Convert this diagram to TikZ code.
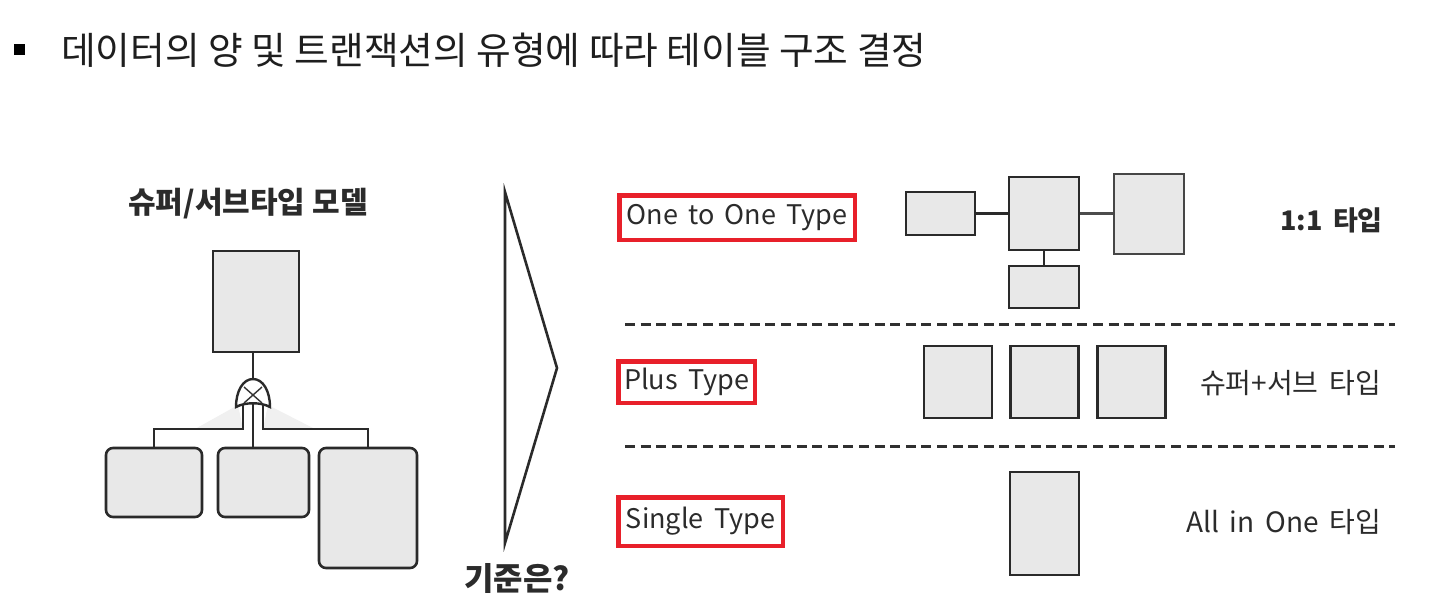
\documentclass[tikz,border=0pt]{standalone}
\usepackage{fontspec}
\setmainfont{Noto Sans CJK KR}
\newcommand{\widespace}{\spaceskip=0.38em\relax}
\definecolor{boxline}{HTML}{2A2A2A}
\definecolor{boxfill}{HTML}{E8E8E8}
\definecolor{redline}{HTML}{E8202A}
\definecolor{txt}{HTML}{2B2B2B}
\definecolor{titc}{HTML}{1E1E1E}
\definecolor{dashc}{HTML}{303030}
\begin{document}
\begin{tikzpicture}[x=1pt,y=-1pt,
  ebox/.style={draw=boxline, fill=boxfill, line width=2.6pt, inner sep=0pt},
  rbox/.style={draw=redline, line width=4.5pt, inner sep=0pt, text=txt, font=\fontsize{27}{30}\selectfont\widespace},
  rlbl/.style={anchor=east, text=txt, inner sep=0pt, font=\fontsize{28}{30}\selectfont\widespace},
  conn/.style={draw=boxline, line width=2.4pt},
  sepline/.style={draw=dashc, line width=3pt, dash pattern=on 10pt off 5.6pt}]
\useasboundingbox (0,0) rectangle (1431,602);
% title
\node[fill=black, minimum size=11pt, inner sep=0pt] (bul) at (19.5,49.5) {};
\node[anchor=west, text=titc, inner sep=0pt, font=\fontsize{37.7}{42}\selectfont] (title) at (61,50) {데이터의 양 및 트랜잭션의 유형에 따라 테이블 구조 결정};
% left model
\node[text=txt, inner sep=0pt, font=\bfseries\fontsize{30}{32}\selectfont] (ltitle) at (248,204) {슈퍼/서브타입 모델};
\node[ebox, minimum width=86pt, minimum height=101pt] (sup) at (256,301.5) {};
\coordinate (sym) at (253,393);
\coordinate (symtop) at (253,379);
\coordinate (bl) at (243,404);
\coordinate (bm) at (253,402);
\coordinate (br) at (263,404);
\coordinate (hl) at (154,429);
\coordinate (hr) at (368,429);
\fill[gray!12] (238,405) -- (195,429) -- (243,429) -- cycle;
\fill[gray!12] (268,405) -- (315,429) -- (263,429) -- cycle;
\node[ebox, rounded corners=7pt, minimum width=96pt, minimum height=69pt] (b1) at (154,482.5) {};
\node[ebox, rounded corners=7pt, minimum width=91pt, minimum height=69pt] (b2) at (263.5,482.5) {};
\node[ebox, rounded corners=7pt, minimum width=98pt, minimum height=120pt] (b3) at (368,508) {};
\draw[conn] (sup.south -| symtop) -- (symtop);
\draw[conn] (bl) |- (hl) -- (hl |- b1.north);
\draw[conn] (bm) -- (bm |- b2.north);
\draw[conn] (br) |- (hr) -- (hr |- b3.north);
\draw[conn, fill=white, shift={(sym)}] (-17,14) .. controls (-17,-2) and (-10,-14) .. (0,-14)
  .. controls (10,-14) and (17,-2) .. (17,14) .. controls (8,9) and (-8,9) .. (-17,14) -- cycle;
\draw[gray!40!black, line width=1.4pt, shift={(sym)}] (-9,-6) -- (9,10) (9,-6) -- (-9,10);
% big triangle
\coordinate (ta) at (505,192);
\coordinate (tb) at (557,368);
\coordinate (tc) at (505,543);
\draw[draw=boxline, line width=2.6pt, line join=miter] (ta) -- (tb) -- (tc) -- cycle;
\node[text=txt, inner sep=0pt, font=\bfseries\fontsize{32}{34}\selectfont] (crit) at (517,578) {기준은?};
% red labels
\node[rbox, minimum width=235.5pt, minimum height=44.5pt] (r1) at (737,217.5) {One to One Type};
\node[rbox, minimum width=136.5pt, minimum height=41.5pt] (r2) at (686.5,382) {Plus Type};
\node[rbox, minimum width=164.5pt, minimum height=48.5pt] (r3) at (700.5,521.5) {Single Type};
% one to one diagram
\node[ebox, minimum width=69pt, minimum height=43pt] (o1) at (940.5,213.5) {};
\node[ebox, minimum width=70pt, minimum height=73pt] (o2) at (1044,213.5) {};
\node[ebox, draw=gray!55!black, minimum width=70pt, minimum height=80pt] (o3) at (1149,214) {};
\node[ebox, minimum width=70pt, minimum height=42pt] (o4) at (1044,287) {};
\draw[conn] (o1.east) -- (o2.west);
\draw[conn, draw=gray!60!black] (o2.east) -- (o2.east -| o3.west);
\draw[conn] (o2.south) -- (o4.north);
% separators
\coordinate (d1a) at (625,324);
\coordinate (d1b) at (1395,324);
\coordinate (d2a) at (625,446);
\coordinate (d2b) at (1395,446);
\draw[sepline] (d1a) -- (d1b);
\draw[sepline] (d2a) -- (d2b);
% plus
\node[ebox, minimum width=68pt, minimum height=72pt] (p1) at (958,382) {};
\node[ebox, minimum width=68pt, minimum height=72pt] (p2) at (1044.5,382) {};
\node[ebox, minimum width=68pt, minimum height=72pt] (p3) at (1131.5,382) {};
% single
\node[ebox, minimum width=69pt, minimum height=103pt] (s1) at (1044.5,523.5) {};
% right labels
\node[rlbl, font=\bfseries\fontsize{27}{30}\selectfont\widespace] (l1) at (1383,220) {1:1 타입};
\node[rlbl] (l2) at (1381,383) {슈퍼+서브 타입};
\node[rlbl] (l3) at (1381,522) {All in One 타입};
\end{tikzpicture}
\end{document}
